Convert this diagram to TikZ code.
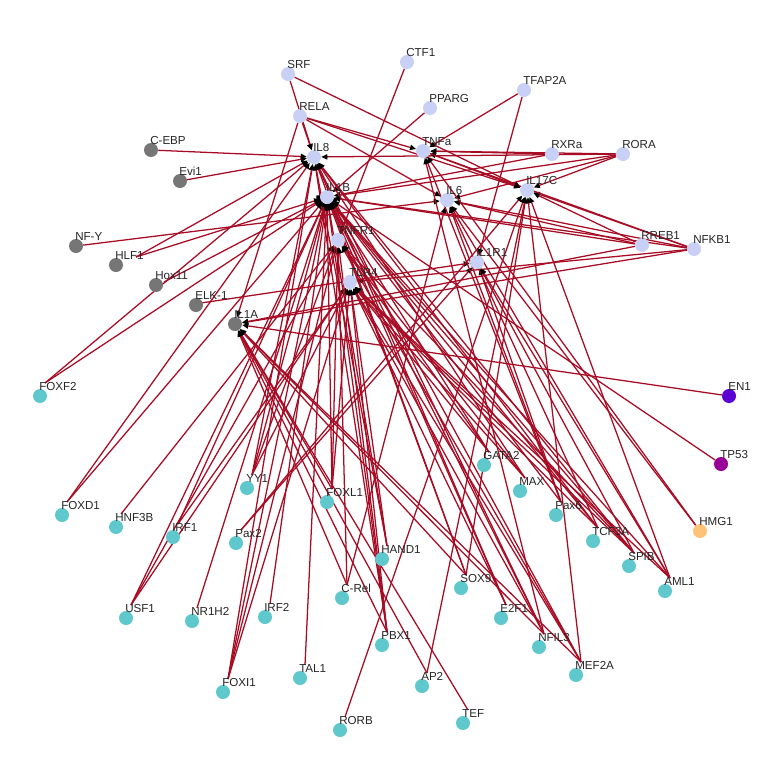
\documentclass[tikz,border=0pt]{standalone}
\usepackage{fontspec}
\setmainfont{Liberation Sans}
\usetikzlibrary{arrows.meta}
\pgfdeclarelayer{edges}
\pgfsetlayers{edges,main}
\definecolor{lav}{RGB}{200,208,245}
\definecolor{gry}{RGB}{118,118,118}
\definecolor{tea}{RGB}{95,200,205}
\definecolor{edc}{RGB}{168,12,36}
\definecolor{enc}{RGB}{90,0,210}
\definecolor{tpc}{RGB}{150,0,150}
\definecolor{hmc}{RGB}{255,195,120}
\tikzset{
  nd/.style={circle,inner sep=0pt,minimum size=10.5pt,draw=none},
  lavn/.style={nd,fill=lav},
  gryn/.style={nd,fill=gry},
  tean/.style={nd,fill=tea},
  lbl/.style={inner sep=0pt,anchor=south west,font=\fontsize{8.7}{9}\selectfont,text=black!85},
  ed/.style={draw=edc,line width=0.95pt,-{Triangle[length=4.5pt,width=4pt,color=black]}},
}
\newcommand\gnode[5]{\node[#4] (#1) at (#2,#3) {};\node[lbl] (#1l) at ([shift={(-1,-5)}]#1.center) {#5};}
\newcommand\tnode[4]{\gnode{#1}{#2}{#3}{tean}{#4}\coordinate (#1e) at ([shift={(5,-13)}]#1.center);}
\begin{document}
\begin{tikzpicture}[x=0.75pt,y=-0.75pt]
\useasboundingbox (0,0) rectangle (768,768);
% lavender nodes
\gnode{srf}{288}{74}{lavn}{SRF}
\gnode{ctf1}{407}{62}{lavn}{CTF1}
\gnode{pparg}{430}{108}{lavn}{PPARG}
\gnode{tfap2a}{524}{90}{lavn}{TFAP2A}
\gnode{rela}{300}{116}{lavn}{RELA}
\gnode{tnfa}{423}{151}{lavn}{TNFa}
\gnode{rxra}{552}{154}{lavn}{RXRa}
\gnode{rora}{623}{154}{lavn}{RORA}
\gnode{il8}{314}{157}{lavn}{IL8}
\gnode{il1b}{327}{197}{lavn}{IL1B}
\gnode{il6}{447}{200}{lavn}{IL6}
\gnode{il17c}{527}{190}{lavn}{IL17C}
\gnode{tnfr1}{338}{240}{lavn}{TNFR1}
\gnode{il1r1}{477}{262}{lavn}{IL1R1}
\gnode{tlr4}{350}{282}{lavn}{TLR4}
\gnode{rreb1}{642}{245}{lavn}{RREB1}
\gnode{nfkb1}{694}{249}{lavn}{NFKB1}
% grey nodes
\gnode{cebp}{151}{150}{gryn}{C-EBP}
\gnode{evi1}{180}{181}{gryn}{Evi1}
\gnode{nfy}{76}{246}{gryn}{NF-Y}
\gnode{hlf1}{116}{265}{gryn}{HLF1}
\gnode{hox11}{156}{285}{gryn}{Hox11}
\gnode{elk1}{196}{305}{gryn}{ELK-1}
\gnode{il1a}{235}{324}{gryn}{IL1A}
\coordinate (hlf1e) at ([shift={(20,-8)}]hlf1.center);
\coordinate (hox11e) at ([shift={(8,-3)}]hox11.center);
\coordinate (elk1e) at ([shift={(5,-2)}]elk1.center);
% teal nodes
\tnode{foxf2}{40}{396}{FOXF2}
\tnode{foxd1}{62}{515}{FOXD1}
\tnode{hnf3b}{116}{527}{HNF3B}
\tnode{irf1}{173}{537}{IRF1}
\tnode{yy1}{247}{488}{YY1}
\tnode{pax2}{236}{543}{Pax2}
\tnode{foxl1}{327}{502}{FOXL1}
\tnode{hand1}{382}{559}{HAND1}
\tnode{crel}{342}{598}{C-Rel}
\tnode{usf1}{126}{618}{USF1}
\tnode{nr1h2}{192}{621}{NR1H2}
\tnode{irf2}{265}{617}{IRF2}
\tnode{pbx1}{382}{645}{PBX1}
\tnode{tal1}{300}{678}{TAL1}
\tnode{foxi1}{223}{692}{FOXI1}
\tnode{rorb}{340}{730}{RORB}
\tnode{gata2}{484}{465}{GATA2}
\tnode{max}{520}{491}{MAX}
\tnode{pax6}{556}{515}{Pax6}
\tnode{tcf3a}{593}{541}{TCF3A}
\tnode{spib}{629}{566}{SPIB}
\tnode{aml1}{665}{591}{AML1}
\tnode{sox9}{461}{588}{SOX9}
\tnode{e2f1}{501}{618}{E2F1}
\tnode{nfil3}{539}{647}{NFIL3}
\tnode{mef2a}{576}{675}{MEF2A}
\tnode{ap2}{422}{686}{AP2}
\tnode{tef}{463}{723}{TEF}
\gnode{en1}{729}{396}{nd,fill=enc}{EN1}
\gnode{tp53}{721}{464}{nd,fill=tpc}{TP53}
\gnode{hmg1}{700}{531}{nd,fill=hmc}{HMG1}
% ring at IL1B
\draw[line width=2.6pt,black] (il1b.center) ++(10:9) arc[start angle=10,end angle=190,radius=9];
\begin{pgfonlayer}{edges}
\fill[white] (0,0) rectangle (768,768);
\foreach \s/\t in {srf/il8,srf/il17c,rela/il8,rela/tnfa,rela/il6,rela/il17c,rela/il1a,
  ctf1/tnfr1,pparg/il1b,tfap2a/tnfa,tfap2a/il1r1,rxra/tnfa,rxra/il1b,
  rora/tnfa,rora/il8,rora/il1b,rora/il17c,rora/il6,
  rreb1/il17c,rreb1/il6,rreb1/il1b,rreb1/il1a,
  nfkb1/il17c,nfkb1/il6,nfkb1/il1b,nfkb1/tnfa,nfkb1/tlr4,nfkb1/il1a,
  tnfa/il17c,cebp/il8,evi1/il8,nfy/il6,hlf1e/il8,hlf1e/il1b,hox11e/il1b,elk1e/il1r1,
  foxf2e/il8,foxf2e/il1b,foxd1e/il8,foxd1e/il1b,hnf3be/tnfr1,
  irf1e/il1b,irf1e/tlr4,usf1e/il1b,usf1e/tnfr1,usf1e/tlr4,nr1h2e/il1b,
  yy1e/il8,yy1e/il1b,yy1e/tnfr1,yy1e/tlr4,pax2e/il17c,pax2e/il1r1,
  foxi1e/il8,foxi1e/il1b,foxi1e/tnfr1,foxi1e/tlr4,irf2e/il1b,tal1e/il1b,
  foxl1e/il1b,foxl1e/tnfr1,foxl1e/tlr4,foxl1e/il1a,
  crele/tnfr1,crele/il1a,crele/il6,hand1e/il1b,hand1e/tlr4,hand1e/il8,
  pbx1e/il8,pbx1e/il1b,pbx1e/tnfr1,pbx1e/tlr4,pbx1e/il1a,
  rorbe/il17c,ap2e/il17c,ap2e/il1a,tefe/il1a,
  gata2e/tlr4,gata2e/tnfr1,gata2e/il1b,maxe/tlr4,maxe/tnfr1,maxe/il8,
  sox9e/il1a,sox9e/il1b,sox9e/il17c,sox9e/il8,e2f1e/il1b,e2f1e/tlr4,e2f1e/il8,
  nfil3e/il1b,nfil3e/tlr4,nfil3e/tnfa,nfil3e/il1a,nfil3e/il8,
  mef2ae/il1a,mef2ae/il1b,mef2ae/tlr4,mef2ae/il17c,mef2ae/tnfr1,
  pax6e/il6,pax6e/il1r1,pax6e/tnfa,pax6e/il1b,
  tcf3ae/il8,tcf3ae/il1b,tcf3ae/il6,tcf3ae/tlr4,
  spibe/il1b,spibe/tnfr1,spibe/il1r1,spibe/tlr4,spibe/il8,
  aml1e/il17c,aml1e/il1r1,aml1e/il6,aml1e/tlr4,aml1e/il1b,
  hmg1/tnfa,hmg1/il6,tp53/il1b,en1/il1a}
  \draw[ed] (\s) -- (\t);
\end{pgfonlayer}
\end{tikzpicture}
\end{document}
